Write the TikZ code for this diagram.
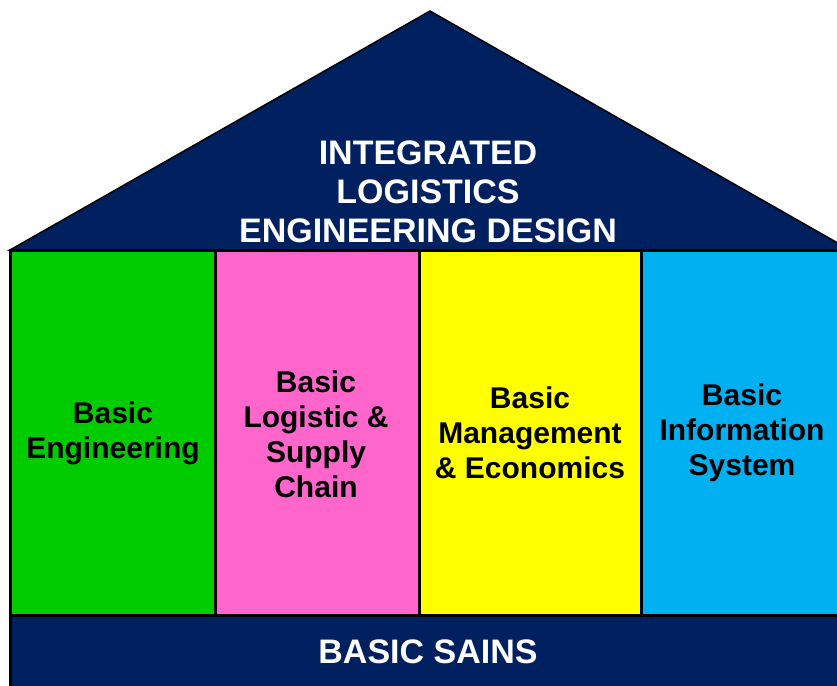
\documentclass[tikz,border=0pt]{standalone}
\usepackage{fontspec}
\setmainfont{Liberation Sans}
\usetikzlibrary{positioning}

\definecolor{navy}{RGB}{0,32,96}
\definecolor{pilgreen}{RGB}{0,204,0}
\definecolor{pilpink}{RGB}{255,102,204}
\definecolor{pilyellow}{RGB}{255,255,0}
\definecolor{pilblue}{RGB}{0,176,240}

\tikzset{
  pillar/.style={draw=black, line width=3pt},
  pillartext/.style={align=center, text=black, font=\bfseries\fontsize{30}{35}\selectfont},
  navytext/.style={align=center, text=white, font=\bfseries\fontsize{34}{39}\selectfont}
}

\begin{document}
\begin{tikzpicture}[x=1pt,y=-1pt]

        \useasboundingbox (0,0) rectangle (837,685);

        % roof
        \draw[fill=navy, line width=1.5pt] (430,11) -- (850,250) -- (10,250) -- cycle;
        \node[navytext] (roof) at (428,192) {INTEGRATED\\LOGISTICS\\ENGINEERING DESIGN};

        % pillars
        \draw[pillar, fill=pilgreen]  (10,250) rectangle (215,615);
        \draw[pillar, fill=pilpink]   (215,250) rectangle (419,615);
        \draw[pillar, fill=pilyellow] (419,250) rectangle (641,615);
        \draw[pillar, fill=pilblue]   (641,250) rectangle (860,615);

        \node[pillartext] (eng)  at (113,433) {Basic\\Engineering};
        \node[pillartext] (log)  at (316,434) {Basic\\Logistic \&\\Supply\\Chain};
        \node[pillartext] (mgmt) at (530,433) {Basic\\Management\\\& Economics};
        \node[pillartext] (info) at (742,433) {Basic\\Information\\System};

        % base
        \draw[fill=navy, line width=3pt] (10,615) rectangle (860,700);
        \node[navytext] (base) at (428,652) {BASIC SAINS};

      \end{tikzpicture}
\end{document}
